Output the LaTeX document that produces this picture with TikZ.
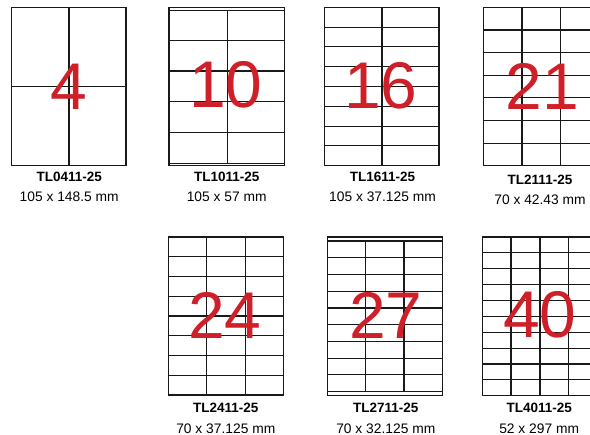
\documentclass[tikz,border=0pt]{standalone}
\usepackage{fontspec}
\setmainfont{Liberation Sans}
\definecolor{numred}{HTML}{CF1F28}
\begin{document}
\begin{tikzpicture}[x=1pt,y=-1pt,
  grid/.style={line width=1.15pt,draw=black!90},
  bignum/.style={text=numred,font=\fontsize{66}{66}\selectfont,inner sep=0pt},
  code/.style={font=\bfseries\fontsize{13.5}{14}\selectfont,inner sep=0pt},
  dims/.style={font=\fontsize{13.8}{14}\selectfont,inner sep=0pt}]
\useasboundingbox (0,0) rectangle (590,435);
\clip (0,0) rectangle (590,435);
% ---- Sheet 1: 4
\draw[grid] (11.7,7.3) rectangle (126,165.7);
\draw[grid] (69,7.3) -- (69,165.7) (11.7,86.7) -- (126,86.7);
\node[bignum] (n4) at (69,87) {4};
\node[code] (c4) at (69.2,176.7) {TL0411-25};
\node[dims] (d4) at (69.2,196.5) {105 x 148.5 mm};
% ---- Sheet 2: 10
\draw[grid] (169,7.3) rectangle (284.3,165.7);
\foreach \y in {10.7,40.7,71,101.7,132.3,163.3}
  \draw[grid] (169,\y) -- (284.3,\y);
\draw[grid] (227.3,10.7) -- (227.3,163.3);
\node[bignum] (n10) at (226,85) {10};
\node[code] (c10) at (226.7,176.7) {TL1011-25};
\node[dims] (d10) at (226.7,196.7) {105 x 57 mm};
% ---- Sheet 3: 16
\draw[grid] (324.3,7.3) rectangle (439,165.7);
\foreach \i in {1,...,7}
  \draw[grid] (324.3,7.3+19.8*\i) -- (439,7.3+19.8*\i);
\draw[grid] (382,7.3) -- (382,165.7);
\node[bignum] (n16) at (381,86) {16};
\node[code] (c16) at (382.5,176.7) {TL1611-25};
\node[dims] (d16) at (382.5,196.7) {105 x 37.125 mm};
% ---- Sheet 4: 21
\draw[grid] (483.3,7.3) rectangle (599.3,165.7);
\foreach \i in {1,...,6}
  \draw[grid] (483.3,7.3+22.63*\i) -- (599.3,7.3+22.63*\i);
\draw[grid] (522,7.3) -- (522,165.7) (560.7,7.3) -- (560.7,165.7);
\node[bignum] (n21) at (542.5,86.5) {21};
\node[code] (c21) at (540,180) {TL2111-25};
\node[dims] (d21) at (540,200) {70 x 42.43 mm};
% ---- Sheet 5: 24
\draw[grid] (168.3,237) rectangle (283.3,395);
\foreach \i in {1,...,7}
  \draw[grid] (168.3,237+19.75*\i) -- (283.3,237+19.75*\i);
\draw[grid] (206.7,237) -- (206.7,395) (245.3,237) -- (245.3,395);
\node[bignum] (n24) at (225,315.5) {24};
\node[code] (c24) at (225.8,408.3) {TL2411-25};
\node[dims] (d24) at (225.8,428.3) {70 x 37.125 mm};
% ---- Sheet 6: 27
\draw[grid] (327.7,237) rectangle (442.7,395.7);
\draw[grid] (327.7,241) -- (442.7,241);
\foreach \i in {1,...,9}
  \draw[grid] (327.7,241+16.74*\i) -- (442.7,241+16.74*\i);
\draw[grid] (365.3,241) -- (365.3,391.7) (404,241) -- (404,391.7);
\node[bignum] (n27) at (386,315.5) {27};
\node[code] (c27) at (385.8,408.3) {TL2711-25};
\node[dims] (d27) at (385.8,428.3) {70 x 32.125 mm};
% ---- Sheet 7: 40
\draw[grid] (482.7,237) rectangle (597.3,395.7);
\foreach \i in {1,...,9}
  \draw[grid] (482.7,237+15.87*\i) -- (597.3,237+15.87*\i);
\draw[grid] (511,237) -- (511,395.7) (540,237) -- (540,395.7) (568.7,237) -- (568.7,395.7);
\node[bignum] (n40) at (540,315) {40};
\node[code] (c40) at (539.2,408.3) {TL4011-25};
\node[dims] (d40) at (539.2,428.3) {52 x 297 mm};
\end{tikzpicture}
\end{document}
